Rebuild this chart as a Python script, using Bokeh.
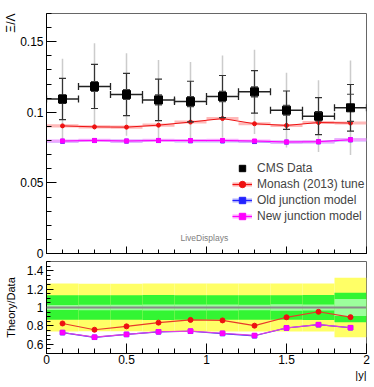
import numpy as np
from bokeh.plotting import figure
from bokeh.layouts import column
from bokeh.models import (ColumnDataSource, FixedTicker, CustomJSTickFormatter, Label, Title,
                          Legend, LegendItem, Span, Range1d)
from bokeh.embed import file_html
from bokeh.resources import INLINE

# ---------------- data ----------------
bin_lo = [0.0, 0.2, 0.4, 0.6, 0.8, 1.0, 1.2, 1.4, 1.6, 1.8]
bin_hi = [0.2, 0.4, 0.6, 0.8, 1.0, 1.2, 1.4, 1.6, 1.8, 2.0]
y_center = [0.1, 0.3, 0.5, 0.7, 0.9, 1.1, 1.3, 1.5, 1.7, 1.9]

cms = [0.1094, 0.1183, 0.1126, 0.1088, 0.1076, 0.1112, 0.1145, 0.1015, 0.0973, 0.1032]
stat_err = [0.0030, 0.0035, 0.0035, 0.0035, 0.0035, 0.0036, 0.0035, 0.0035, 0.0033, 0.0096]
syst_err = [0.0146, 0.0156, 0.0150, 0.0147, 0.0144, 0.0149, 0.0151, 0.0136, 0.0131, 0.0165]
total_err = [0.0285, 0.0306, 0.0292, 0.0283, 0.0281, 0.0290, 0.0298, 0.0265, 0.0254, 0.0335]

monash = [0.0904, 0.0897, 0.0895, 0.0909, 0.0931, 0.0956, 0.0919, 0.0907, 0.0928, 0.0924]
old_junction = [0.0795, 0.0800, 0.0796, 0.0800, 0.0798, 0.0797, 0.0793, 0.0789, 0.0791, 0.0805]
new_junction = [0.0797, 0.0801, 0.0797, 0.0801, 0.0800, 0.0801, 0.0797, 0.0790, 0.0792, 0.0806]

legend_labels = ["CMS Data", "Monash (2013) tune", "Old junction model", "New junction model"]

x_ticks = [0, 0.5, 1, 1.5, 2]
x_minor = [round(0.1 * i, 2) for i in range(21)]
top_y_ticks = [0, 0.05, 0.1, 0.15]
top_y_minor = [round(0.01 * i, 2) for i in range(18)]
bot_y_ticks = [0.6, 0.8, 1.0, 1.2, 1.4]
bot_y_minor = [round(0.5 + 0.05 * i, 2) for i in range(21)]

FONT = "Liberation Sans"

cms_a = np.array(cms)
src = ColumnDataSource(dict(
    xc=y_center, lo=bin_lo, hi=bin_hi, y=cms,
    tot_lo=cms_a - np.array(total_err), tot_hi=cms_a + np.array(total_err),
    sys_lo=cms_a - np.array(syst_err), sys_hi=cms_a + np.array(syst_err),
    st_lo=cms_a - np.array(stat_err), st_hi=cms_a + np.array(stat_err),
    r_tot_lo=1 - np.array(total_err) / cms_a, r_tot_hi=1 + np.array(total_err) / cms_a,
    r_sys_lo=1 - np.array(syst_err) / cms_a, r_sys_hi=1 + np.array(syst_err) / cms_a,
    r_st_lo=1 - np.array(stat_err) / cms_a, r_st_hi=1 + np.array(stat_err) / cms_a,
))

models = [
    (monash, "#ee1111", "#ffa8a8", "circle", "#e83a2a"),
    (old_junction, "#2222ff", "#a8a8ff", "square", "#3333ff"),
    (new_junction, "#ff00ff", "#ffa0ff", "square", "#e040e0"),
]


def style_axis(ax, ticks, minor, major_in, minor_in, show_labels=True):
    ax.ticker = FixedTicker(ticks=ticks, minor_ticks=minor)
    ax.major_tick_in = major_in
    ax.major_tick_out = 0
    ax.minor_tick_in = minor_in
    ax.minor_tick_out = 0
    ax.axis_line_color = "black"
    ax.major_tick_line_color = "black"
    ax.minor_tick_line_color = "black"
    ax.axis_label = None
    if show_labels:
        ax.formatter = CustomJSTickFormatter(code="return String(Math.round(tick*100)/100);")
        ax.major_label_text_font = FONT
        ax.major_label_text_font_size = "12px"
        ax.major_label_text_color = "black"
        ax.major_label_standoff = 3
    else:
        ax.formatter = CustomJSTickFormatter(code="return '';")
        ax.major_label_text_font_size = "0px"
        ax.major_label_standoff = 0


# ---------------- top panel ----------------
p1 = figure(frame_width=320, frame_height=240, x_range=Range1d(0, 2), y_range=Range1d(0, 0.17),
            output_backend="svg", toolbar_location=None,
            min_border_left=46, min_border_right=8, min_border_top=13, min_border_bottom=8)
p1.grid.visible = False
p1.outline_line_color = "#666666"
p1.background_fill_color = "white"
style_axis(p1.yaxis[0], top_y_ticks, top_y_minor, 10, 5)
style_axis(p1.xaxis[0], x_ticks, x_minor, 7, 4, show_labels=False)

# total uncertainty (light gray)
p1.segment(x0="xc", y0="tot_lo", x1="xc", y1="tot_hi", source=src, line_color="#cccccc", line_width=1.5)

# models
for vals, col, light, mk, _ in models:
    v = np.array(vals)
    p1.quad(left=bin_lo, right=bin_hi, bottom=v - 0.0011, top=v + 0.0011,
            fill_color=light, line_color=None, fill_alpha=0.8)
    p1.line(y_center, vals, line_color=col, line_width=1)
    p1.scatter(y_center, vals, marker="circle" if mk == "circle" else "square",
               size=4, fill_color=col, line_color=col)

# syst bars
p1.segment(x0="xc", y0="sys_lo", x1="xc", y1="sys_hi", source=src, line_color="#333333", line_width=1.2)
p1.scatter(x="xc", y="sys_lo", source=src, marker="dash", size=7, line_color="#333333", line_width=1.2)
p1.scatter(x="xc", y="sys_hi", source=src, marker="dash", size=7, line_color="#333333", line_width=1.2)
# stat caps
p1.scatter(x="xc", y="st_lo", source=src, marker="dash", size=7, line_color="#444444", line_width=1.2)
p1.scatter(x="xc", y="st_hi", source=src, marker="dash", size=7, line_color="#444444", line_width=1.2)
# x error bars
p1.segment(x0="lo", y0="y", x1="hi", y1="y", source=src, line_color="#222222", line_width=1.5)
p1.scatter(x="lo", y="y", source=src, marker="dash", angle=np.pi / 2, size=7, line_color="#222222", line_width=1.3)
p1.scatter(x="hi", y="y", source=src, marker="dash", angle=np.pi / 2, size=7, line_color="#222222", line_width=1.3)
# data markers
p1.scatter(x="xc", y="y", source=src, marker="square", size=8, fill_color="black", line_color="black")

# legend (dummy renderers)
leg_src = ColumnDataSource(dict(x=np.array([np.nan]), y=np.array([np.nan])))
items = []
r = p1.scatter("x", "y", source=leg_src, marker="square", size=5, fill_color="black", line_color="black")
items.append(LegendItem(label=legend_labels[0], renderers=[r]))
for (vals, col, light, mk, _), lab in zip(models, legend_labels[1:]):
    r1 = p1.line("x", "y", source=leg_src, line_color=light, line_width=4)
    r2 = p1.line("x", "y", source=leg_src, line_color=col, line_width=1)
    r3 = p1.scatter("x", "y", source=leg_src, marker="circle" if mk == "circle" else "square",
                    size=3, fill_color=col, line_color=col)
    items.append(LegendItem(label=lab, renderers=[r1, r2, r3]))
legend = Legend(items=items, location=(186, 29), glyph_width=20, glyph_height=16, label_height=16,
                spacing=0, padding=0, margin=0, border_line_color=None, background_fill_alpha=0,
                label_text_font=FONT, label_text_font_size="12px", label_standoff=5)
p1.add_layout(legend)

p1.add_layout(Title(text="Ξ/Λ", align="right", standoff=0, text_font=FONT, text_font_size="12px",
                    text_font_style="normal", text_color="black"), "left")
p1.add_layout(Label(x=0.8375, y=0.0111, text="LiveDisplays", text_baseline="middle",
                    text_font=FONT, text_font_size="8.5px", text_color="#808080"))

# ---------------- ratio panel ----------------
p2 = figure(frame_width=320, frame_height=92, x_range=p1.x_range, y_range=Range1d(0.5, 1.5),
            output_backend="svg", toolbar_location=None,
            min_border_left=46, min_border_right=8, min_border_top=0, min_border_bottom=34)
p2.grid.visible = False
p2.outline_line_color = "#666666"
style_axis(p2.yaxis[0], bot_y_ticks, bot_y_minor, 7, 4)
style_axis(p2.xaxis[0], x_ticks, x_minor, 10, 5)
p2.xaxis[0].major_label_standoff = 1
p2.yaxis[0].axis_label = "Theory/Data"
p2.yaxis[0].axis_label_standoff = 7
p2.yaxis[0].axis_label_text_font = FONT
p2.yaxis[0].axis_label_text_font_size = "11px"
p2.yaxis[0].axis_label_text_font_style = "normal"
p2.yaxis[0].axis_label_text_color = "black"

p2.quad(left="lo", right="hi", bottom="r_tot_lo", top="r_tot_hi", source=src,
        fill_color="#ffff66", line_color=None)
p2.quad(left="lo", right="hi", bottom="r_sys_lo", top="r_sys_hi", source=src,
        fill_color="#33f533", line_color=None)
p2.quad(left="lo", right="hi", bottom="r_st_lo", top="r_st_hi", source=src,
        fill_color="#9cff9c", line_color=None)
p2.add_layout(Span(location=1, dimension="width", line_color="#8a8a8a", line_width=2))

for vals, col, light, mk, lcol in models:
    ratio = np.array(vals) / cms_a
    p2.line(y_center, ratio, line_color=lcol, line_width=1.2)
    p2.scatter(y_center, ratio, marker="circle" if mk == "circle" else "square",
               size=5 if mk == "circle" else 4.5, fill_color=col, line_color=col)

p2.add_layout(Title(text="|y|", align="right", standoff=0, text_font=FONT, text_font_size="11px",
                    text_font_style="normal", text_color="black"), "below")

layout = column(p1, p2, spacing=0)
open("out.html", "w").write(file_html(layout, INLINE))
